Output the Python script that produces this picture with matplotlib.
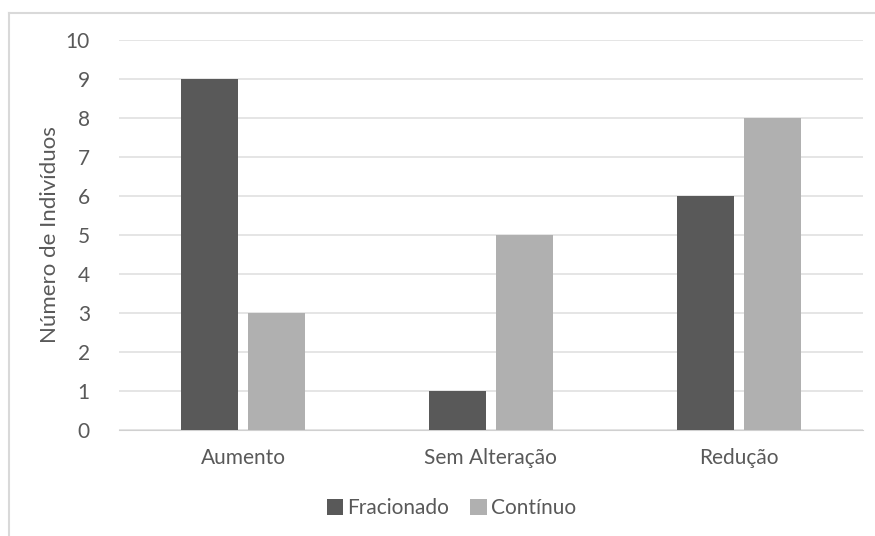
import matplotlib.pyplot as plt
from matplotlib.lines import Line2D
import numpy as np

categorias = ['Aumento', 'Sem Alteração', 'Redução']
fracionado = [9, 1, 6]
continuo = [3, 5, 8]

cor_texto = '#595959'
plt.rcParams['font.family'] = ['Lato', 'DejaVu Sans']

fig = plt.figure(figsize=(8.75, 5.36), dpi=100)
ax = fig.add_axes([0.136, 0.198, 0.850, 0.727])

x = np.arange(len(categorias))
largura = 0.23
ax.bar(x - largura / 2 - 0.02, fracionado, largura, color='#595959', label='Fracionado', zorder=3)
ax.bar(x + largura / 2 + 0.02, continuo, largura, color='#b0b0b0', label='Contínuo', zorder=3)

ax.set_xlim(-0.5, 2.5)
ax.set_ylim(0, 10)
ax.set_yticks(range(0, 11))
ax.set_xticks(x)
ax.set_xticklabels(categorias)
ax.tick_params(axis='both', length=0, colors=cor_texto, labelsize=15)
ax.tick_params(axis='y', pad=21)
ax.tick_params(axis='x', pad=13)
ax.grid(axis='y', color='#e0e0e0', linewidth=1.2, zorder=0)
for lado in ['top', 'right', 'left']:
    ax.spines[lado].set_visible(False)
ax.spines['bottom'].set_color('#d0d0d0')
ax.set_ylabel('Número de Indivíduos', color=cor_texto, fontsize=16, labelpad=4)

fig.legend(loc='center', bbox_to_anchor=(0.516, 0.052), ncol=2, frameon=False,
           fontsize=15, labelcolor=cor_texto, handlelength=0.8, handleheight=0.8,
           handletextpad=0.2, columnspacing=1.0)

# moldura do gráfico
fig.add_artist(Line2D([9 / 875, 1], [1 - 13 / 536, 1 - 13 / 536], color='#d9d9d9', linewidth=1.5))
fig.add_artist(Line2D([9 / 875, 9 / 875], [1 - 13 / 536, 0], color='#d9d9d9', linewidth=1.5))

fig.savefig('out.png', dpi=100)
